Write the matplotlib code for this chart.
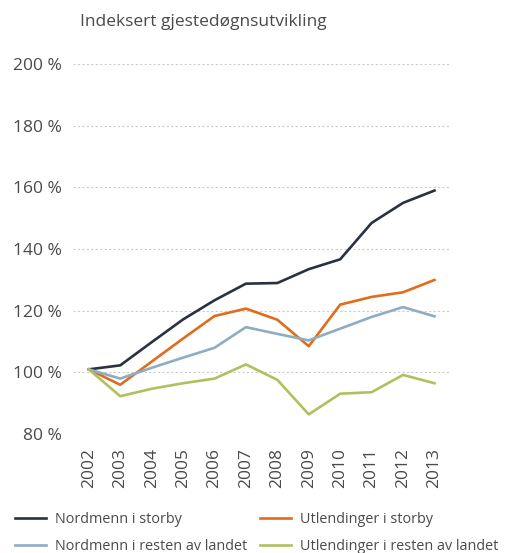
import matplotlib.pyplot as plt
import numpy as np

years = ['2002', '2003', '2004', '2005', '2006', '2007', '2008', '2009', '2010', '2011', '2012', '2013']
nordmenn_storby = [101, 102.3, 109.8, 117.2, 123.4, 128.8, 129, 133.5, 136.7, 148.5, 155, 159]
utlendinger_storby = [101, 96, 103.5, 111, 118.3, 120.7, 117.1, 108.5, 122, 124.5, 126, 130]
nordmenn_resten = [101, 98, 101.5, 104.8, 108, 114.7, 112.5, 110.4, 114.2, 118, 121.2, 118.2]
utlendinger_resten = [101, 92.3, 94.7, 96.5, 98, 102.6, 97.6, 86.4, 93.1, 93.6, 99.2, 96.5]
yticks = [80, 100, 120, 140, 160, 180, 200]

plt.rcParams['font.family'] = ['Open Sans', 'DejaVu Sans']
txt = '#4a4a4a'

fig = plt.figure(figsize=(5.11, 5.53), dpi=100)
ax = fig.add_axes([0.143, 0.215, 0.738, 0.669])

x = np.arange(len(years))
l1, = ax.plot(x, nordmenn_storby, color='#2a3140', lw=1.9, label='Nordmenn i storby')
l2, = ax.plot(x, utlendinger_storby, color='#e06c1c', lw=1.9, label='Utlendinger i storby')
l3, = ax.plot(x, nordmenn_resten, color='#8eadc3', lw=1.9, label='Nordmenn i resten av landet')
l4, = ax.plot(x, utlendinger_resten, color='#b3bf5f', lw=1.9, label='Utlendinger i resten av landet')

ax.set_xlim(-0.5, len(years) - 0.5)
ax.set_ylim(80, 200)
ax.set_yticks(yticks)
ax.set_yticklabels([f'{v} %' for v in yticks], fontsize=12.5, color=txt)
ax.set_xticks(x)
ax.set_xticklabels(years, rotation=90, fontsize=12.5, color=txt)
ax.tick_params(length=0, pad=8)
ax.tick_params(axis='x', pad=10)
ax.grid(axis='y', color='#cccccc', linestyle=(0, (2, 2)), lw=0.8)
for s in ax.spines.values():
    s.set_visible(False)
ax.set_axisbelow(True)

fig.text(0.157, 0.96, 'Indeksert gjestedøgnsutvikling', fontsize=12.5, color=txt, va='center')

fig.legend([l1, l3, l2, l4], [l1.get_label(), l3.get_label(), l2.get_label(), l4.get_label()],
           ncol=2, loc='lower left', bbox_to_anchor=(0.018, -0.012), frameon=False,
           fontsize=10.4, labelcolor=txt, handlelength=2.15, handletextpad=0.6,
           columnspacing=0.9, labelspacing=0.8, borderaxespad=0)

fig.savefig('out.png', dpi=100)
